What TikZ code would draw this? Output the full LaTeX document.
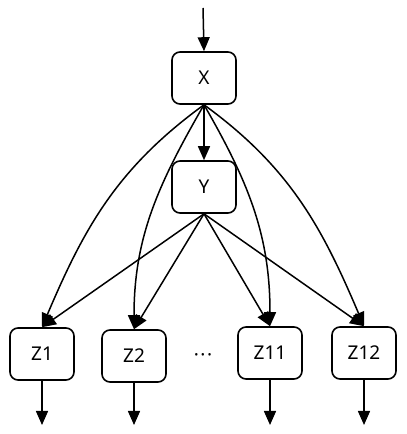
\documentclass[tikz,border=0pt]{standalone}
\usepackage{fontspec}
\setmainfont{Noto Sans}
\usetikzlibrary{arrows.meta}

\begin{document}
\begin{tikzpicture}[x = 1pt, y = 1pt, every node/.style = {draw = black, shape = rectangle, rounded corners = 8pt, line width = 1.6pt, minimum width = 64pt, minimum height = 52pt, inner sep = 0pt, font = \fontsize{19}{23}\selectfont}, edge/.style = {line width = 1.5pt, -{Triangle[length = 14pt, width = 12pt]}}]
    \useasboundingbox (0,0) rectangle (407,434);
    	%top input and the two upper boxes
    	\coordinate (in) at (203, 426);
    	\node (X) at (204, 356) {X};
	\node (Y) at (204, 247) {Y};
    	%bottom row
    	\node (Z1) at (42, 80) {Z1};
	\node (Z2) at (134, 78) {Z2};
	\node[draw = none] (dots) at (203, 76) {·\kern1.5pt·\kern1.5pt·};
	\node (Z11) at (270, 81) {Z11};
	\node (Z12) at (364, 81) {Z12};
	\coordinate (o1) at (42, 9);
	\coordinate (o2) at (134, 9);
	\coordinate (o11) at (270, 9);
	\coordinate (o12) at (364, 9);
    	%edges
    	\draw[edge] (in) -- (X.north);
	\draw[edge] (X.south) -- (Y.north);
	\draw[edge] (X.south) to[out = 216, in = 67] (Z1.north);
	\draw[edge] (X.south) to[out = 240, in = 90] (Z2.north);
	\draw[edge] (X.south) to[out = 300, in = 90] (Z11.north);
	\draw[edge] (X.south) to[out = 324, in = 113] (Z12.north);
	\draw[edge] (Y.south) -- (Z1.north);
	\draw[edge] (Y.south) -- (Z2.north);
	\draw[edge] (Y.south) -- (Z11.north);
	\draw[edge] (Y.south) -- (Z12.north);
	\draw[edge] (Z1.south) -- (o1);
	\draw[edge] (Z2.south) -- (o2);
	\draw[edge] (Z11.south) -- (o11);
	\draw[edge] (Z12.south) -- (o12);
    \end{tikzpicture}
\end{document}
